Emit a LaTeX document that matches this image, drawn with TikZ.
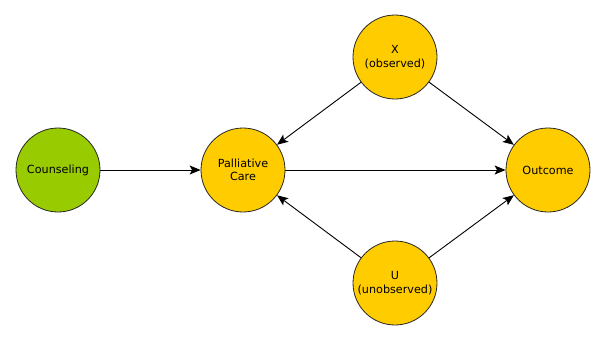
\documentclass[tikz,border=0pt]{standalone}
\usepackage{fontspec}
\setmainfont{DejaVu Sans}
\usetikzlibrary{arrows.meta}
\definecolor{leafgreen}{HTML}{99CC00}
\definecolor{amber}{HTML}{FFCC00}
\begin{document}
\begin{tikzpicture}[x=1pt,y=-1pt,
  var/.style={circle,draw=black!85,line width=0.8pt,minimum size=84pt,inner sep=0pt,
              align=center,font=\fontsize{11.2}{13.5}\selectfont},
  cause/.style={var,fill=leafgreen},
  factor/.style={var,fill=amber},
  edge/.style={draw=black,line width=0.9pt,-{Stealth[length=11pt,width=9pt,inset=2.5pt]}}]
  \useasboundingbox (0,0) rectangle (605,341);
  % variables of the causal graph
  \node[cause]  (couns)   at (58,170)  {Counseling};
  \node[factor] (pall)    at (243,170) {Palliative\\Care};
  \node[factor] (xobs)    at (395,57)  {X\\(observed)};
  \node[factor] (uobs)    at (395,283) {U\\(unobserved)};
  \node[factor] (outcome) at (548,170) {Outcome};
  % causal arrows
  \draw[edge] (couns) -- (pall);
  \draw[edge] (pall) -- (outcome);
  \draw[edge] (xobs) -- (pall);
  \draw[edge] (xobs) -- (outcome);
  \draw[edge] (uobs) -- (pall);
  \draw[edge] (uobs) -- (outcome);
\end{tikzpicture}
\end{document}
